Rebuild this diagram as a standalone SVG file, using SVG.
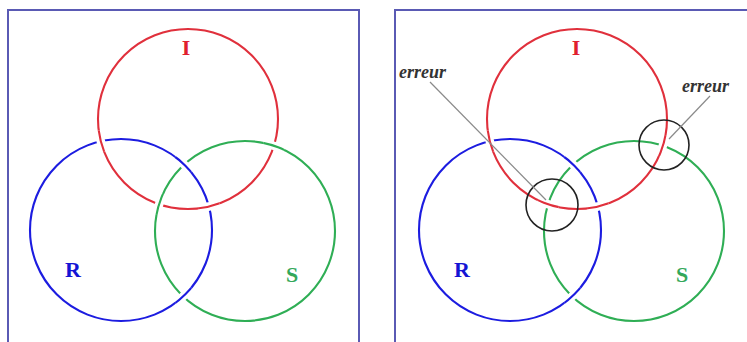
<svg xmlns="http://www.w3.org/2000/svg" width="747" height="342" viewBox="0 0 747 342">
<style>
.frame{fill:none;stroke:#5a5ab4;stroke-width:2}
.ring{fill:none;stroke-width:2.1}
.red{stroke:#e0303c}
.blue{stroke:#1c1ce0}
.green{stroke:#2fae55}
.halo{fill:none;stroke:#fff;stroke-width:8.5}
.lbl{font-family:"Liberation Serif","Times New Roman",serif;font-weight:bold;font-size:22px;text-anchor:middle}
.err{font-family:"Liberation Serif","Times New Roman",serif;font-weight:bold;font-style:italic;font-size:18px;fill:#333}
.lead{stroke:#8a8a8a;stroke-width:1.2;fill:none}
.mark{fill:none;stroke:#222;stroke-width:1.6}
</style>
<defs>
<circle id="cI" cx="188" cy="119" r="90"/>
<circle id="cR" cx="121" cy="230" r="91"/>
<circle id="cS" cx="245" cy="231" r="90"/>
<circle id="dI" cx="577" cy="119" r="90"/>
<circle id="dR" cx="510" cy="230" r="91"/>
<circle id="dS" cx="634" cy="231" r="90"/>
<clipPath id="k1"><circle cx="100.8" cy="141.3" r="11"/></clipPath>
<clipPath id="k2"><circle cx="208.9" cy="206.5" r="11"/></clipPath>
<clipPath id="k3"><circle cx="273.9" cy="145.8" r="11"/></clipPath>
<clipPath id="k4"><circle cx="159.1" cy="204.2" r="11"/></clipPath>
<clipPath id="k5"><circle cx="183.2" cy="164.6" r="11"/></clipPath>
<clipPath id="k6"><circle cx="184.3" cy="296.4" r="11"/></clipPath>
<clipPath id="m1"><circle cx="489.8" cy="141.3" r="11"/></clipPath>
<clipPath id="m2"><circle cx="597.9" cy="206.5" r="11"/></clipPath>
<clipPath id="m3"><circle cx="662.9" cy="145.8" r="11"/></clipPath>
<clipPath id="m4"><circle cx="548.1" cy="204.2" r="11"/></clipPath>
<clipPath id="m5"><circle cx="572.2" cy="164.6" r="11"/></clipPath>
<clipPath id="m6"><circle cx="573.3" cy="296.4" r="11"/></clipPath>
</defs>

<g id="panel-left">
<rect class="frame" x="8" y="10" width="351" height="340"/>
</g>
<g id="panel-right">
<rect class="frame" x="395" y="10" width="360" height="340"/>
</g>

<g id="ring-I-left"><use href="#cI" class="ring red"/></g>
<g id="ring-R-left"><use href="#cR" class="ring blue"/></g>
<g id="ring-S-left"><use href="#cS" class="ring green"/></g>
<g id="crossings-left">
<g clip-path="url(#k1)"><use href="#cI" class="halo"/><use href="#cI" class="ring red"/></g>
<g clip-path="url(#k2)"><use href="#cI" class="halo"/><use href="#cI" class="ring red"/></g>
<g clip-path="url(#k3)"><use href="#cS" class="halo"/><use href="#cS" class="ring green"/></g>
<g clip-path="url(#k4)"><use href="#cS" class="halo"/><use href="#cS" class="ring green"/></g>
<g clip-path="url(#k5)"><use href="#cR" class="halo"/><use href="#cR" class="ring blue"/></g>
<g clip-path="url(#k6)"><use href="#cR" class="halo"/><use href="#cR" class="ring blue"/></g>
</g>

<g id="ring-I-right"><use href="#dI" class="ring red"/></g>
<g id="ring-R-right"><use href="#dR" class="ring blue"/></g>
<g id="ring-S-right"><use href="#dS" class="ring green"/></g>
<g id="crossings-right">
<g clip-path="url(#m1)"><use href="#dI" class="halo"/><use href="#dI" class="ring red"/></g>
<g clip-path="url(#m2)"><use href="#dI" class="halo"/><use href="#dI" class="ring red"/></g>
<g clip-path="url(#m3)"><use href="#dI" class="halo"/><use href="#dI" class="ring red"/></g>
<g clip-path="url(#m4)"><use href="#dI" class="halo"/><use href="#dI" class="ring red"/></g>
<g clip-path="url(#m5)"><use href="#dR" class="halo"/><use href="#dR" class="ring blue"/></g>
<g clip-path="url(#m6)"><use href="#dR" class="halo"/><use href="#dR" class="ring blue"/></g>
</g>

<g id="labels-left">
<text class="lbl" x="186" y="55" fill="#e0202e">I</text>
<text class="lbl" x="73" y="277" fill="#1414d4">R</text>
<text class="lbl" x="292" y="282" fill="#33a85a">S</text>
</g>
<g id="labels-right">
<text class="lbl" x="576" y="55" fill="#e0202e">I</text>
<text class="lbl" x="462" y="277" fill="#1414d4">R</text>
<text class="lbl" x="682" y="282" fill="#33a85a">S</text>
</g>

<g id="error-marks">
<circle class="mark" cx="552" cy="205" r="26"/>
<circle class="mark" cx="664" cy="145" r="25"/>
</g>
<g id="connectors">
<line class="lead" x1="430" y1="82" x2="546" y2="200"/>
<line class="lead" x1="710" y1="96" x2="669" y2="139"/>
</g>
<g id="error-labels">
<text class="err" x="399" y="78">erreur</text>
<text class="err" x="682" y="92">erreur</text>
</g>
</svg>
